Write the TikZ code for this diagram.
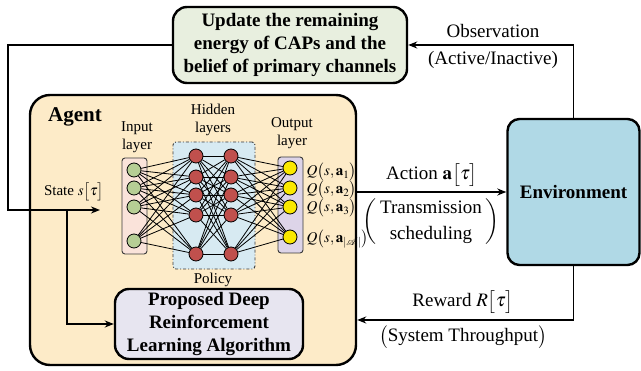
\documentclass[tikz,border=0pt]{standalone}
\usepackage{mathptmx}
\usepackage{amsmath,amssymb}
\usepackage{fontspec}
\setmainfont{Liberation Serif}
\usepackage{xcolor}
\usetikzlibrary{calc,arrows.meta,positioning}
\definecolor{updc}{HTML}{E8EFDF}
\definecolor{agentc}{HTML}{FDEBC8}
\definecolor{envc}{HTML}{B0D9E6}
\definecolor{drlc}{HTML}{E7E5F0}
\definecolor{inc}{HTML}{FAE3DA}
\definecolor{hidc}{HTML}{D7EAF2}
\definecolor{outc}{HTML}{DDD4E8}
\definecolor{grn}{HTML}{B6CE95}
\definecolor{rd}{HTML}{C0504D}
\definecolor{yel}{HTML}{FAE800}
\definecolor{edgec}{HTML}{3A3A3A}
\newcommand{\bigfont}{\fontsize{19}{23}\selectfont}
\newcommand{\smfont}{\fontsize{15}{18}\selectfont}
\tikzset{
  ar/.style={-{Stealth[length=9pt,width=7pt]},line width=1.6pt},
  blk/.style={draw,line width=2.4pt,rounded corners=14pt,align=center,inner sep=0pt},
  lyr/.style={draw=edgec,line width=0.9pt,rounded corners=3pt,inner sep=0pt},
  neur/.style={circle,draw,line width=0.8pt,minimum size=14pt,inner sep=0pt},
  lbl/.style={font=\bigfont,align=center},
  sml/.style={font=\smfont,align=center}
}

\begin{document}
\begin{tikzpicture}[x=1pt,y=-1pt]
\useasboundingbox (0,0) rectangle (641,371);
% main blocks
\node[blk,fill=agentc,minimum width=326pt,minimum height=270pt,rounded corners=20pt] (agent) at (193,230) {};
\node[blk,fill=updc,minimum width=234pt,minimum height=76pt,font=\bigfont\bfseries] (upd) at (290,45)
  {Update the remaining\\energy of CAPs and the\\belief of primary channels};
\node[blk,fill=envc,minimum width=132pt,minimum height=146pt,rounded corners=12pt,font=\bigfont\bfseries] (env) at (573.5,192) {Environment};
\node[font=\fontsize{21}{24}\selectfont\bfseries] (agentlbl) at (75,117) {Agent};
\node[blk,fill=drlc,minimum width=188pt,minimum height=70pt,font=\bigfont\bfseries] (drl) at (209,324)
  {Proposed Deep\\Reinforcement\\Learning Algorithm};
% network
\node[lyr,fill=inc,minimum width=25pt,minimum height=96pt] (inbox) at (134.5,206) {};
\node[lyr,fill=hidc,draw=edgec,dash dot,minimum width=82pt,minimum height=127pt] (hidbox) at (214,205.5) {};
\node[lyr,fill=outc,minimum width=25pt,minimum height=96pt] (outbox) at (290.5,205) {};
\foreach \y [count=\i] in {170,188,207,241}
  \node[neur,fill=grn] (i\i) at (134,\y) {};
\foreach \y [count=\i] in {156,177,195,215,254}{
  \node[neur,fill=rd] (a\i) at (196,\y) {};
  \node[neur,fill=rd] (b\i) at (231,\y) {};
}
\foreach \y [count=\i] in {168,188,207,237}
  \node[neur,fill=yel] (o\i) at (290,\y) {};
\foreach \i in {1,...,4}
  \foreach \j in {1,...,5}
    \draw[line width=0.8pt] (i\i) -- (a\j);
\foreach \i in {1,...,5}
  \foreach \j in {1,...,5}
    \draw[line width=0.8pt] (a\i) -- (b\j);
\foreach \i in {1,...,5}
  \foreach \j in {1,...,4}
    \draw[line width=0.8pt] (b\i) -- (o\j);
\node[sml] (inlbl) at (137,137) {Input\\layer};
\node[sml] (hidlbl) at (213,120) {Hidden\\layers};
\node[sml] (outlbl) at (292,133) {Output\\layer};
\node[sml] (pollbl) at (213,280) {Policy};
\node[sml,anchor=west] (q1) at (303,172) {$Q\big(s,\mathbf{a}_1\big)$};
\node[sml,anchor=west] (q2) at (303,190) {$Q\big(s,\mathbf{a}_2\big)$};
\node[sml,anchor=west] (q3) at (303,208) {$Q\big(s,\mathbf{a}_3\big)$};
\node[sml,anchor=west] (q4) at (303,239) {$Q\big(s,\mathbf{a}_{|\mathcal{A}|}\big)$};
% loop connectors
\coordinate (lft) at (8,45);
\coordinate (sttip) at (100,210);
\coordinate (stj) at (67,210);
\coordinate (rwy) at (0,320);
\node[sml] (stlbl) at (74,192) {State $s\big[\tau\big]$};
\draw[ar] (env.north) |- (upd.east);
\draw[ar] (upd.west) -- (lft) |- (sttip);
\draw[ar] (stj) |- (drl.west);
\draw[ar] (agent.east |- env.west) -- (env.west);
\draw[ar] (env.south) |- (agent.east |- rwy);
% connector labels
\node[lbl] (obslbl) at (493,31) {Observation};
\node[lbl] (obslbl2) at (493,60) {(Active/Inactive)};
\node[lbl] (actlbl) at (432,175) {Action $\mathbf{a}\big[\tau\big]$};
\node[lbl] (actlbl2) at (431,222) {$\left(\begin{tabular}{@{\hspace{4pt}}c@{\hspace{4pt}}}Transmission\\[3pt]scheduling\end{tabular}\right)$};
\node[lbl] (rwlbl) at (463,302) {Reward $R\big[\tau\big]$};
\node[lbl] (rwlbl2) at (463,337) {$\big($System Throughput$\big)$};
\end{tikzpicture}
\end{document}
